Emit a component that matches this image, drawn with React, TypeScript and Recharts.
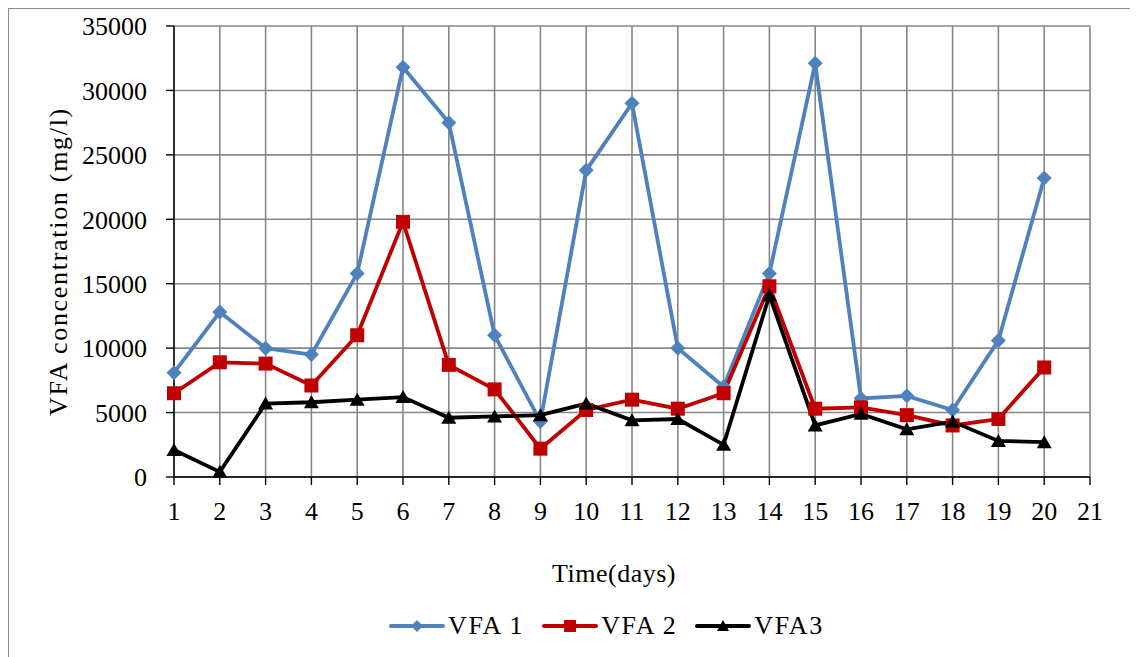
import React from "react";
import { LineChart, Line, XAxis, YAxis, CartesianGrid, Legend, Label } from "recharts";

const days = [1, 2, 3, 4, 5, 6, 7, 8, 9, 10, 11, 12, 13, 14, 15, 16, 17, 18, 19, 20];
const vfa1 = [8100, 12800, 10000, 9500, 15800, 31800, 27500, 11000, 4300, 23800, 29000, 10000, 7000, 15800, 32100, 6100, 6300, 5200, 10600, 23200];
const vfa2 = [6500, 8900, 8800, 7100, 11000, 19800, 8700, 6800, 2200, 5200, 6000, 5300, 6500, 14800, 5300, 5400, 4800, 4000, 4500, 8500];
const vfa3 = [2100, 400, 5700, 5800, 6000, 6200, 4600, 4700, 4800, 5700, 4400, 4500, 2500, 14100, 4000, 4900, 3700, 4300, 2800, 2700];
const xTicks = [1, 2, 3, 4, 5, 6, 7, 8, 9, 10, 11, 12, 13, 14, 15, 16, 17, 18, 19, 20, 21];
const yTicks = [0, 5000, 10000, 15000, 20000, 25000, 30000, 35000];
const seriesNames = ["VFA 1", "VFA 2", "VFA3"];

const data = days.map((d, i) => ({ day: d, v1: vfa1[i], v2: vfa2[i], v3: vfa3[i] }));

const FONT = "'Liberation Serif', 'Times New Roman', serif";
const BLUE = "#4F81BD";
const RED = "#C00000";
const BLACK = "#000000";

const Diamond = (p: any) => {
  const { cx, cy, index } = p;
  if (cx == null || cy == null) return <g key={`d${index}`} />;
  const r = 7.5;
  return <path key={`d${index}`} d={`M${cx},${cy - r} L${cx + r},${cy} L${cx},${cy + r} L${cx - r},${cy} Z`} fill={BLUE} />;
};
const Square = (p: any) => {
  const { cx, cy, index } = p;
  if (cx == null || cy == null) return <g key={`s${index}`} />;
  return <rect key={`s${index}`} x={cx - 7} y={cy - 7} width={14} height={14} fill={RED} />;
};
const Triangle = (p: any) => {
  const { cx, cy, index } = p;
  if (cx == null || cy == null) return <g key={`t${index}`} />;
  return <path key={`t${index}`} d={`M${cx},${cy - 7} L${cx + 7.5},${cy + 6} L${cx - 7.5},${cy + 6} Z`} fill={BLACK} />;
};

const legendItems = [
  { name: seriesNames[0], color: BLUE, shape: "diamond" },
  { name: seriesNames[1], color: RED, shape: "square" },
  { name: seriesNames[2], color: BLACK, shape: "triangle" },
];

const LegendIcon = ({ color, shape }: { color: string; shape: string }) => (
  <svg width={56} height={20} style={{ display: "block" }}>
    <line x1={2} y1={10} x2={54} y2={10} stroke={color} strokeWidth={4} strokeLinecap="round" />
    {shape === "diamond" && <path d="M28,4 L34,10 L28,16 L22,10 Z" fill={color} />}
    {shape === "square" && <rect x={22} y={4} width={12} height={12} fill={color} />}
    {shape === "triangle" && <path d="M28,4 L34,15 L22,15 Z" fill={color} />}
  </svg>
);

const CustomLegend = () => (
  <div style={{ height: 40, display: "flex", alignItems: "center", marginLeft: 380, fontFamily: FONT, fontSize: 26, color: "#000" }}>
    {legendItems.map((it, i) => (
      <div key={it.name} style={{ display: "flex", alignItems: "center", marginRight: i < 2 ? 18 : 0 }}>
        <LegendIcon color={it.color} shape={it.shape} />
        <span style={{ marginLeft: 3, lineHeight: "26px", letterSpacing: 1.6 }}>{it.name}</span>
      </div>
    ))}
  </div>
);

const XLabel = (props: any) => {
  const vb = props.viewBox || {};
  return (
    <text x={605} y={vb.y + 105} textAnchor="middle" fontFamily={FONT} fontSize={26} letterSpacing={0.5} fill="#000">
      Time(days)
    </text>
  );
};

const YLabel = (props: any) => {
  const vb = props.viewBox || {};
  const cx = 49;
  const cy = vb.y + vb.height / 2 + 10;
  return (
    <text x={cx} y={cy} transform={`rotate(-90 ${cx} ${cy})`} textAnchor="middle" dominantBaseline="central" fontFamily={FONT} fontSize={26} letterSpacing={1.7} fill="#000">
      VFA concentration (mg/l)
    </text>
  );
};

export default function App() {
  return (
    <div style={{ width: 1129, height: 648, borderTop: "1px solid #8c8c8c", borderLeft: "1px solid #8c8c8c", background: "#fff" }}>
      <LineChart width={1129} height={648} data={data} margin={{ top: 17, right: 48, left: 0, bottom: 11 }}>
        <CartesianGrid stroke="#878787" strokeWidth={1.6} />
        <XAxis
          dataKey="day"
          type="number"
          domain={[1, 21]}
          ticks={xTicks}
          interval={0}
          height={129}
          tickSize={8}
          tickMargin={17}
          stroke="#000"
          strokeWidth={1.4}
          tick={{ fontFamily: FONT, fontSize: 26, fill: "#000" }}
          tickLine={{ stroke: "#000" }}
          allowDecimals={false}
        >
          <Label content={<XLabel />} />
        </XAxis>
        <YAxis
          type="number"
          domain={[0, 35000]}
          ticks={yTicks}
          interval={0}
          width={165}
          tickSize={8}
          tickMargin={19}
          stroke="#000"
          strokeWidth={1.4}
          tick={{ fontFamily: FONT, fontSize: 26, fill: "#000" }}
          tickLine={{ stroke: "#000" }}
        >
          <Label content={<YLabel />} />
        </YAxis>
        <Legend verticalAlign="bottom" align="left" content={<CustomLegend />} wrapperStyle={{ height: 40 }} />
        <Line type="linear" dataKey="v1" name={seriesNames[0]} stroke={BLUE} strokeWidth={3.8} dot={Diamond} activeDot={false} isAnimationActive={false} />
        <Line type="linear" dataKey="v2" name={seriesNames[1]} stroke={RED} strokeWidth={3.8} dot={Square} activeDot={false} isAnimationActive={false} />
        <Line type="linear" dataKey="v3" name={seriesNames[2]} stroke={BLACK} strokeWidth={3.8} dot={Triangle} activeDot={false} isAnimationActive={false} />
      </LineChart>
    </div>
  );
}
